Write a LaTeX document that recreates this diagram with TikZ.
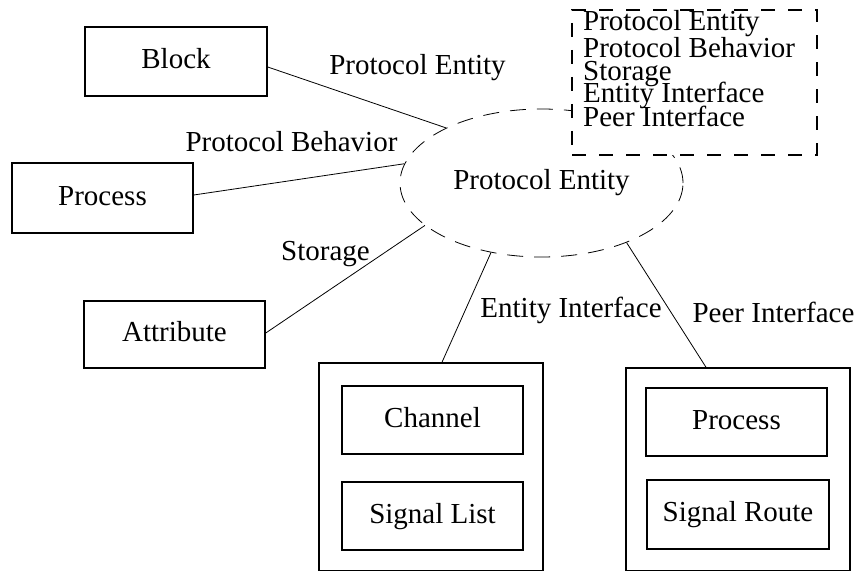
\documentclass[tikz,border=0pt]{standalone}
\usepackage{fontspec}
\setmainfont{Liberation Serif}
\usetikzlibrary{shapes.geometric,calc}
\begin{document}
\begin{tikzpicture}[x=1pt,y=-1pt,
  every node/.style={font=\fontsize{29}{31}\selectfont, inner sep=0pt},
  box/.style={draw, line width=1.5pt, minimum width=181pt, minimum height=68pt,
              text height=20.3pt, text depth=5.8pt},
  frame/.style={draw, line width=1.5pt},
  link/.style={line width=0.8pt},
  tag/.style={anchor=base},
  listline/.style={anchor=base west},
]
\useasboundingbox (0,0) rectangle (858,572);

% central entity
\node[ellipse, draw, line width=0.8pt, dash pattern=on 16pt off 11pt,
      minimum width=283pt, minimum height=148pt] (pe) at (541.5,183) {Protocol Entity};

% dashed list of aspects, drawn over the ellipse
\node[draw, fill=white, line width=1.6pt, dash pattern=on 14pt off 13pt,
      minimum width=245pt, minimum height=145pt] (legend) at (694.5,82.5) {};
\node[listline] (l1) at (583,31)  {Protocol Entity};
\node[listline] (l2) at (583,58)  {Protocol Behavior};
\node[listline] (l3) at (583,81)  {Storage};
\node[listline] (l4) at (583,103) {Entity Interface};
\node[listline] (l5) at (583,127) {Peer Interface};

% left-hand elements
\node[box, minimum width=182pt, minimum height=69pt] (blk) at (176,61.5) {Block};
\node[box, minimum height=70pt] (proc) at (102.5,198) {Process};
\node[box, minimum height=67pt] (attr) at (174.5,334.5) {Attribute};

% interface groups
\node[frame, minimum width=224pt, minimum height=207.5pt] (outL) at (431,466.75) {};
\node[box] (chan)  at (432.5,420) {Channel};
\node[box] (slist) at (432.5,516) {Signal List};

\node[frame, minimum width=224pt, minimum height=202.5pt] (outR) at (738,469.25) {};
\node[box] (proc2)  at (736.5,422) {Process};
\node[box, minimum width=182pt, minimum height=69pt] (sroute) at (738,514.5) {Signal Route};

% connectors
\draw[link] ($(blk.east)+(0,5.5)$) -- (pe.150);
\draw[link] ($(proc.east)+(0,-3)$) -- (pe.172);
\draw[link] ($(attr.east)+(0,-1.5)$) -- (pe.200);
\draw[link] ($(outL.north)+(11,0)$) -- (pe.234);
\draw[link] ($(outR.north)+(-32,0)$) -- (pe.325);

% connector labels
\node[tag] (tPE) at (417.5,75)  {Protocol Entity};
\node[tag] (tPB) at (291.5,152) {Protocol Behavior};
\node[tag] (tST) at (325.5,260) {Storage};
\node[tag] (tEI) at (571,317)   {Entity Interface};
\node[tag] (tPI) at (773.5,322) {Peer Interface};
\end{tikzpicture}
\end{document}
